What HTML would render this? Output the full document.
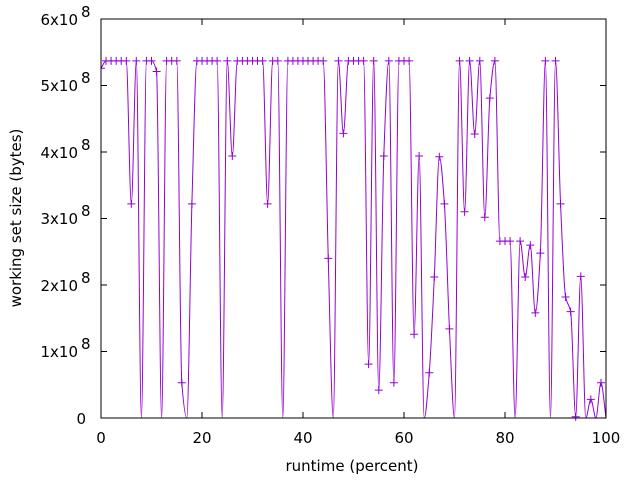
<!DOCTYPE html>
<html><head><meta charset="utf-8"><style>
html,body{margin:0;padding:0;background:#fff;width:640px;height:480px;overflow:hidden}
text{font-family:"DejaVu Sans","Liberation Sans",sans-serif;font-size:15px;fill:#000}
</style></head><body>
<svg id="s" width="640" height="480" xmlns="http://www.w3.org/2000/svg">
<defs><clipPath id="c"><rect x="101" y="10" width="506" height="415"/></clipPath></defs>
<rect x="0" y="0" width="640" height="480" fill="#fff"/>
<g id="data" clip-path="url(#c)"></g>
<rect x="101" y="19" width="505" height="399" fill="none" stroke="#000" stroke-width="1"/>
<g stroke="#000" stroke-width="1" id="ticks"></g>
<g text-anchor="end">
<text x="86" y="424">0</text>
<text x="78" y="357">1x10</text><text x="81" y="349" text-anchor="start" font-size="12">8</text>
<text x="78" y="291">2x10</text><text x="81" y="283" text-anchor="start" font-size="12">8</text>
<text x="78" y="224">3x10</text><text x="81" y="216" text-anchor="start" font-size="12">8</text>
<text x="78" y="158">4x10</text><text x="81" y="150" text-anchor="start" font-size="12">8</text>
<text x="78" y="91">5x10</text><text x="81" y="83" text-anchor="start" font-size="12">8</text>
<text x="78" y="25">6x10</text><text x="81" y="17" text-anchor="start" font-size="12">8</text>
</g>
<g text-anchor="middle">
<text x="101" y="443">0</text>
<text x="202" y="443">20</text>
<text x="303" y="443">40</text>
<text x="404" y="443">60</text>
<text x="505" y="443">80</text>
<text x="606" y="443">100</text>
<text x="352" y="471">runtime (percent)</text>
<text transform="translate(21,218) rotate(-90)">working set size (bytes)</text>
</g>
</svg>
<script>
var T=5.37;
var v=[5.26,T,T,T,T,T,3.22,T,0,T,T,5.21,0,T,T,T,0.53,0,3.22,T,T,T,T,T,0,T,3.94,T,T,T,T,T,T,3.22,T,T,0,T,T,T,T,T,T,T,T,2.4,0,T,4.28,T,T,T,T,0.81,T,0.42,3.94,T,0.53,T,T,T,1.26,3.94,0,0.68,2.12,3.93,3.22,1.34,0,T,3.1,T,4.27,T,3.02,4.81,T,2.66,2.66,2.66,0,2.66,2.12,2.6,1.58,2.48,T,0,T,3.22,1.82,1.6,0.02,2.13,0,0.28,0,0.53,0];
var n=v.length,h=5.05,X=[],Y=[],m="";
for(var i=0;i<n;i++){X.push(101+h*i);Y.push(418-v[i]*66.5);
if(v[i]>0.01)m+="M"+(X[i]-4).toFixed(1)+","+Y[i].toFixed(1)+"h8M"+X[i].toFixed(1)+","+(Y[i]-4).toFixed(1)+"v8";}
var dl=[],t=[];
for(var i=0;i<n-1;i++)dl.push((Y[i+1]-Y[i])/h);
t[0]=dl[0];t[n-1]=dl[n-2];
for(var i=1;i<n-1;i++){if(dl[i-1]*dl[i]<=0)t[i]=0;else{t[i]=2/(1/dl[i-1]+1/dl[i]);}}
var d="M"+X[0].toFixed(1)+","+Y[0].toFixed(1);
for(var i=0;i<n-1;i++){d+="C"+(X[i]+h/3).toFixed(2)+","+(Y[i]+t[i]*h/3).toFixed(2)+" "+(X[i+1]-h/3).toFixed(2)+","+(Y[i+1]-t[i+1]*h/3).toFixed(2)+" "+X[i+1].toFixed(2)+","+Y[i+1].toFixed(2);}
var ns="http://www.w3.org/2000/svg",g=document.getElementById("data");
var pl=document.createElementNS(ns,"path");pl.setAttribute("d",d);pl.setAttribute("fill","none");pl.setAttribute("stroke","#9400d3");pl.setAttribute("stroke-width","1");g.appendChild(pl);
var p=document.createElementNS(ns,"path");p.setAttribute("d",m);p.setAttribute("stroke","#9400d3");p.setAttribute("stroke-width","1");p.setAttribute("fill","none");g.appendChild(p);
var tt="",tk=document.getElementById("ticks");
for(var k=0;k<=6;k++){var y=418-k*66.5;tt+="M101,"+y+"h6M606,"+y+"h-6";}
for(var k=0;k<=5;k++){var x=101+k*101;tt+="M"+x+",418v-6M"+x+",19v6";}
var tp=document.createElementNS(ns,"path");tp.setAttribute("d",tt);tk.appendChild(tp);
</script>
</body></html>
